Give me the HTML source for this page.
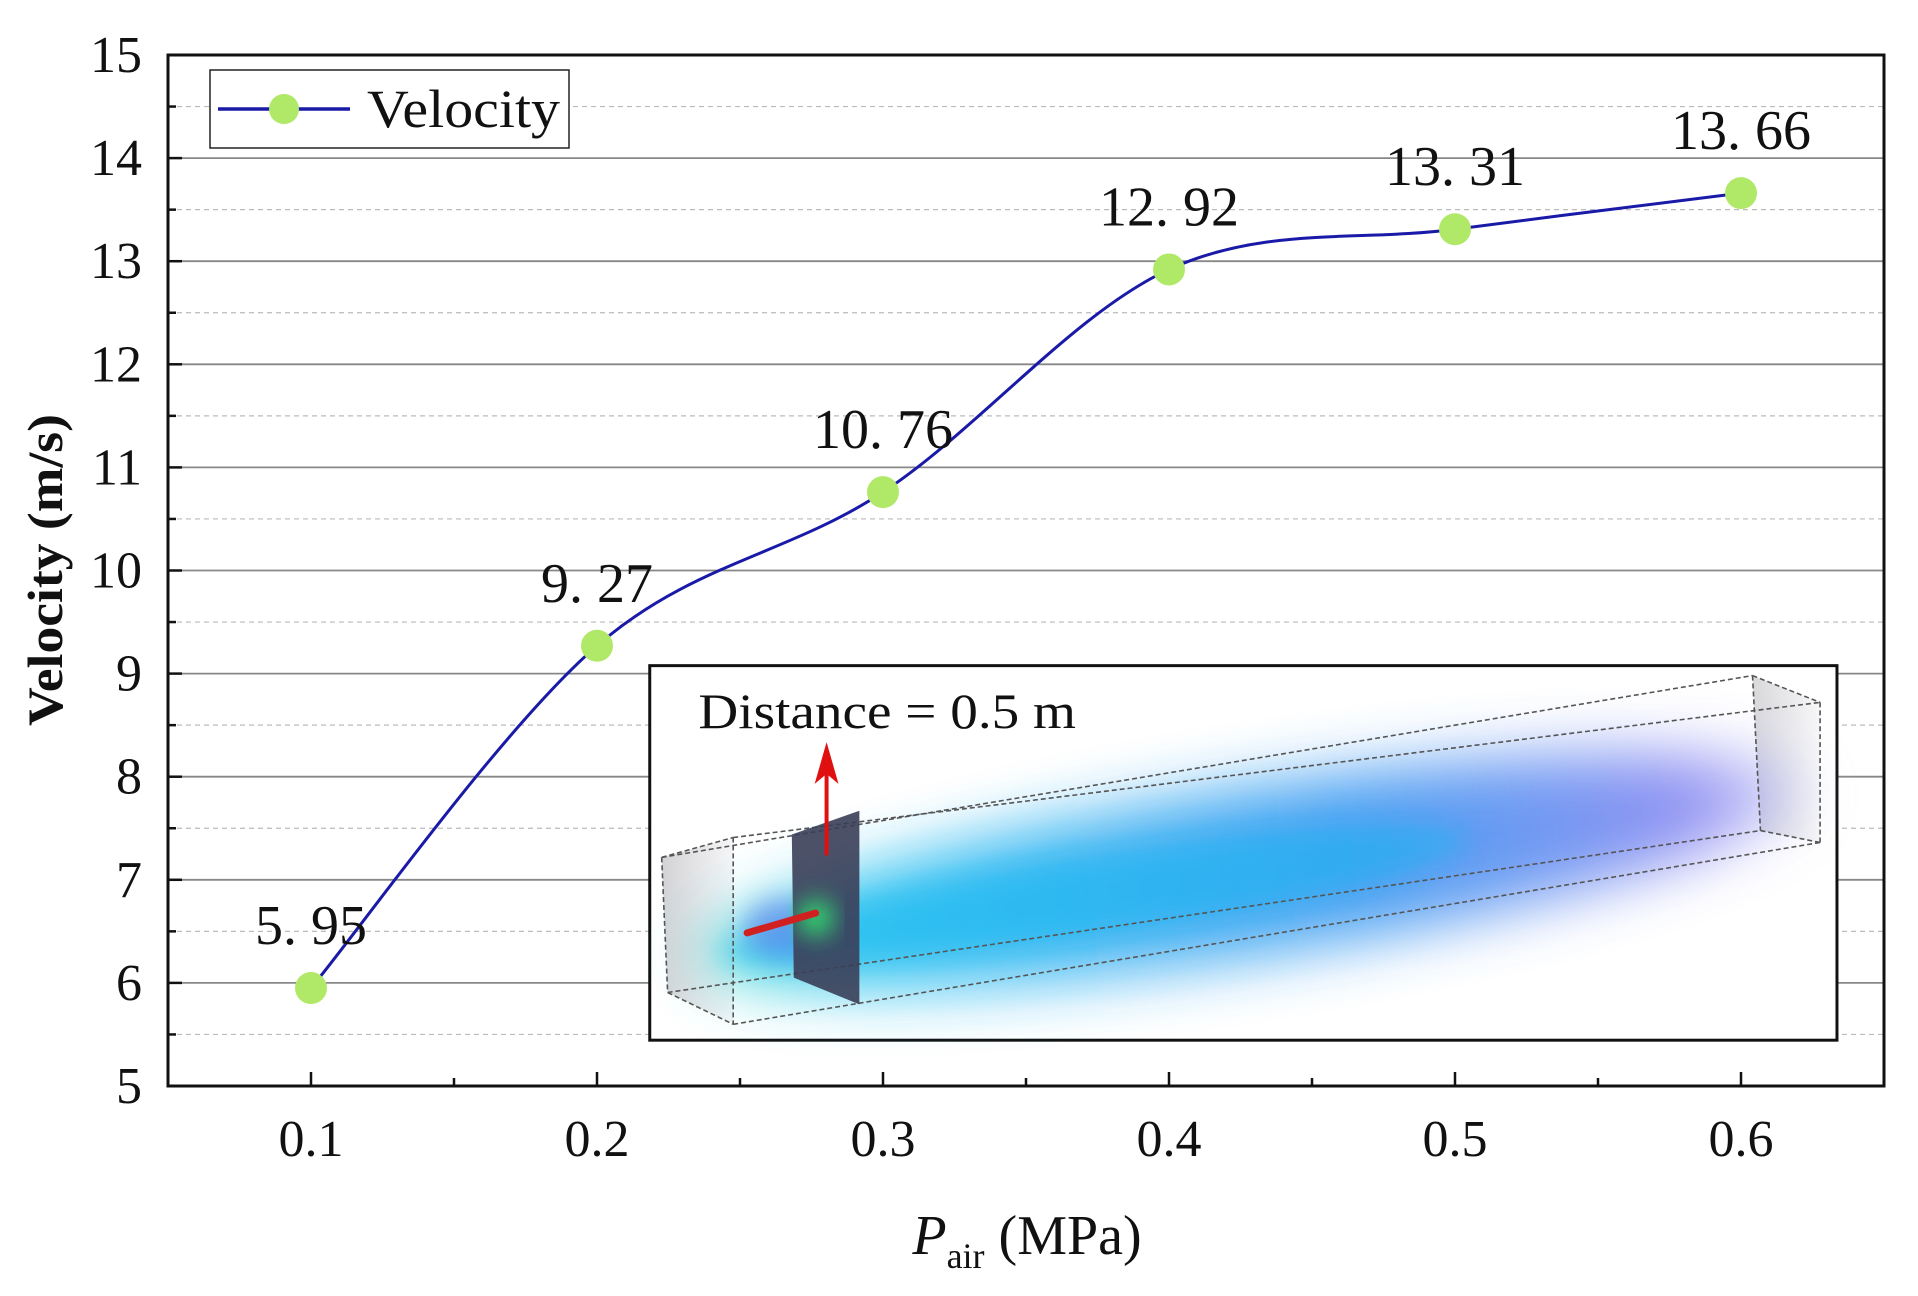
<!DOCTYPE html>
<html><head><meta charset="utf-8"><style>
html,body{margin:0;padding:0;background:#fff;}
svg{display:block;font-family:"Liberation Serif",serif;}
</style></head><body>
<svg id="chart" width="1918" height="1296" viewBox="0 0 1918 1296">
<defs>
<filter id="blur1" x="-30%" y="-80%" width="160%" height="260%"><feGaussianBlur stdDeviation="30"/></filter>
<filter id="blur2" x="-30%" y="-80%" width="160%" height="260%"><feGaussianBlur stdDeviation="12"/></filter>
<linearGradient id="flowGrad" x1="0" y1="0" x2="1" y2="0">
<stop offset="0" stop-color="#40d8d0"/><stop offset="0.15" stop-color="#20c0f0"/><stop offset="0.6" stop-color="#2a90f0"/><stop offset="0.9" stop-color="#8080f0"/><stop offset="1" stop-color="#d0d0f8"/>
</linearGradient>
<linearGradient id="faceGrad" x1="0" y1="0" x2="1" y2="0"><stop offset="0" stop-color="#c8c8cc"/><stop offset="1" stop-color="#f4f4f6"/></linearGradient>
</defs>
<g id="grid"></g>
<g id="inset" transform="translate(-1,-1) scale(0.9935)">
<rect x="655" y="671" width="1195" height="377" fill="#fff" stroke="#111" stroke-width="3"/>
<polygon points="667,864 739,844 739,1032 673,1000" fill="url(#faceGrad)" opacity="0.8"/>
<polygon points="1765,681 1833,708 1833,849 1773,837" fill="url(#faceGrad)" opacity="0.7"/>
<g transform="rotate(-8.8 1250 880)">
<ellipse cx="1260" cy="880" rx="560" ry="85" fill="url(#flowGrad)" filter="url(#blur1)" opacity="0.85"/>
<ellipse cx="1100" cy="880" rx="380" ry="40" fill="#18b8f0" filter="url(#blur2)" opacity="0.45"/>
</g>
<ellipse cx="790" cy="935" rx="40" ry="30" fill="#6a70f0" filter="url(#blur2)" opacity="0.5"/>
<g fill="none" stroke="#555" stroke-width="1.6" stroke-dasharray="5,3">
<line x1="667" y1="864" x2="1765" y2="681"/><line x1="739" y1="844" x2="1833" y2="708"/>
<line x1="739" y1="1032" x2="1833" y2="849"/><line x1="673" y1="1000" x2="1773" y2="837"/>
<line x1="739" y1="844" x2="739" y2="1032"/><line x1="667" y1="864" x2="673" y2="1000"/>
<line x1="667" y1="864" x2="739" y2="844"/><line x1="673" y1="1000" x2="739" y2="1032"/>
<line x1="1765" y1="681" x2="1833" y2="708"/><line x1="1833" y1="708" x2="1833" y2="849"/><line x1="1765" y1="681" x2="1773" y2="837"/><line x1="1773" y1="837" x2="1833" y2="849"/>
</g>
<polygon points="798,841 866,817 866,1012 800,985" fill="#3a3e58" opacity="0.9"/>
<ellipse cx="822" cy="925" rx="18" ry="18" fill="#30e070" filter="url(#blur2)"/>
<line x1="753" y1="940" x2="822" y2="920" stroke="#d02020" stroke-width="7" stroke-linecap="round"/>
<line x1="833" y1="862" x2="833" y2="772" stroke="#e01010" stroke-width="4"/>
<polygon points="833,748 821,790 833,780 845,790" fill="#e01010"/>
<text x="704" y="734" font-size="50" textLength="380" lengthAdjust="spacingAndGlyphs" fill="#111">Distance = 0.5 m</text>
</g>
<g id="plot"></g>
<rect x="168" y="55" width="1716" height="1031" fill="none" stroke="#111" stroke-width="3"/>
<g id="axes"></g>
<g>
<rect x="210" y="70" width="359" height="78" fill="#fff" stroke="#222" stroke-width="1.5"/>
<line x1="218" y1="109" x2="350" y2="109" stroke="#1a1aa8" stroke-width="3.5"/>
<circle cx="284" cy="109" r="15" fill="#b0e868"/>
<text x="367" y="127" font-size="54" textLength="193" lengthAdjust="spacingAndGlyphs" fill="#111">Velocity</text>
</g>
<text transform="translate(62,570) rotate(-90)" text-anchor="middle" font-size="50" font-weight="bold" fill="#111" textLength="312" lengthAdjust="spacingAndGlyphs">Velocity (m/s)</text>
<text x="1027" y="1254" text-anchor="middle" font-size="56" fill="#111"><tspan font-style="italic">P</tspan><tspan font-size="36" dy="14">air</tspan><tspan dy="-14"> (MPa)</tspan></text>
</svg>
<script>
const categories = [0.1, 0.2, 0.3, 0.4, 0.5, 0.6];
const velocity = [5.95, 9.27, 10.76, 12.92, 13.31, 13.66];
const valueLabels = ["5. 95", "9. 27", "10. 76", "12. 92", "13. 31", "13. 66"];
const yTicks = [5, 6, 7, 8, 9, 10, 11, 12, 13, 14, 15];
const xTicks = [0.1, 0.2, 0.3, 0.4, 0.5, 0.6];
const xTickLabels = ["0.1", "0.2", "0.3", "0.4", "0.5", "0.6"];

const NS = "http://www.w3.org/2000/svg";
const L = 168, R = 1884, T = 55, B = 1086;
const xMin = 0.05, xMax = 0.65, yMin = 5, yMax = 15;
const xs = v => L + (v - xMin) / (xMax - xMin) * (R - L);
const ys = v => B - (v - yMin) / (yMax - yMin) * (B - T);
function mk(tag, attrs, parent) { const e = document.createElementNS(NS, tag); for (const k in attrs) e.setAttribute(k, attrs[k]); parent.appendChild(e); return e; }

const grid = document.getElementById("grid");
const axes = document.getElementById("axes");
const plot = document.getElementById("plot");
yTicks.forEach((t, i) => {
  const y = ys(t);
  if (t > yMin && t < yMax) {
    const g = mk("line", {x1: L, x2: R, y1: y, y2: y, stroke: "#888", "stroke-width": 1.8}, grid);
    
    
  }
  if (i < yTicks.length - 1) {
    const yh = ys(t + 0.5);
    const d = mk("line", {x1: L, x2: R, y1: yh, y2: yh, stroke: "#bbb", "stroke-width": 1.2, "stroke-dasharray": "5,4"}, grid);
    
    
    mk("line", {x1: L, x2: L + 8, y1: yh, y2: yh, stroke: "#111", "stroke-width": 2.5}, axes);
  }
  mk("line", {x1: L, x2: L + 14, y1: y, y2: y, stroke: "#111", "stroke-width": 2.5}, axes);
  const tx = mk("text", {x: 142, y: y + 17, "text-anchor": "end", "font-size": 52, fill: "#111"}, axes);
  tx.textContent = t;
  
  
});
xTicks.forEach((t, i) => {
  const x = xs(t);
  mk("line", {x1: x, x2: x, y1: B, y2: B - 14, stroke: "#111", "stroke-width": 2.5}, axes);
  if (i < xTicks.length - 1) { const xh = xs(t + 0.05); mk("line", {x1: xh, x2: xh, y1: B, y2: B - 8, stroke: "#111", "stroke-width": 2.5}, axes); }
  const tx = mk("text", {x: x, y: 1156, "text-anchor": "middle", "font-size": 52, fill: "#111"}, axes);
  tx.textContent = xTickLabels[i];
  
  
});

const pts = categories.map((c, i) => [xs(c), ys(velocity[i])]);
let d = "M" + pts[0][0] + "," + pts[0][1];
for (let i = 0; i < pts.length - 1; i++) {
  const p0 = pts[Math.max(0, i - 1)], p1 = pts[i], p2 = pts[i + 1], p3 = pts[Math.min(pts.length - 1, i + 2)];
  const c1 = [p1[0] + (p2[0] - p0[0]) / 6, p1[1] + (p2[1] - p0[1]) / 6];
  const c2 = [p2[0] - (p3[0] - p1[0]) / 6, p2[1] - (p3[1] - p1[1]) / 6];
  d += " C" + c1 + " " + c2 + " " + p2;
}
const line = mk("path", {d: d, fill: "none", stroke: "#1a1aa8", "stroke-width": 3}, plot);


pts.forEach((p, i) => {
  const c = mk("circle", {cx: p[0], cy: p[1], r: 16, fill: "#b0e868"}, plot);
  
  
  const t = mk("text", {x: p[0], y: p[1] - 44, "text-anchor": "middle", "font-size": 56, fill: "#111"}, plot);
  t.textContent = valueLabels[i];
  
  
});
</script>
</body></html>
